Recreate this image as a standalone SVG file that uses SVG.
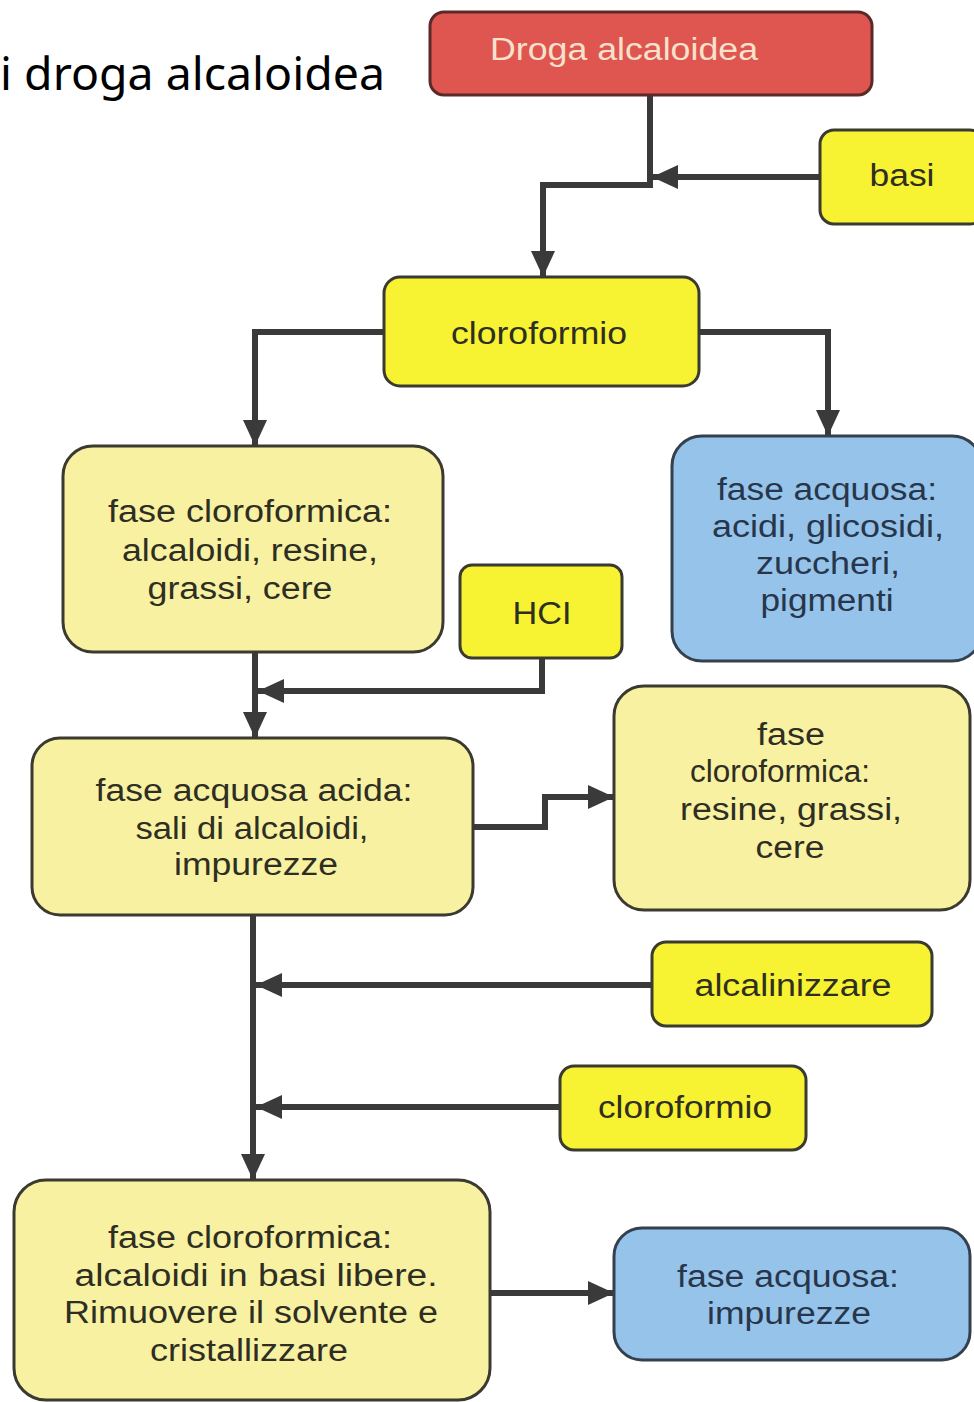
<svg xmlns="http://www.w3.org/2000/svg" width="974" height="1402" viewBox="0 0 974 1402">
<defs>
<style>
.box{stroke:#3b3a30;stroke-width:3}
.red{fill:#df5550;stroke:#5a2a28}
.yb{fill:#f7f232}
.yp{fill:#f8f1a2}
.bl{fill:#96c3ea;stroke:#34404e}
text{font-family:"Liberation Sans",Arial,sans-serif;font-size:31px;text-anchor:middle;fill:#2e2e22}
.wt{fill:#f6e2cc}
.bt{fill:#27364a}
.title{font-family:"Comic Sans MS","Noto Sans",sans-serif;font-size:45px;text-anchor:start;fill:#000}
.c{fill:none;stroke:#3a3a3a;stroke-width:6;marker-end:url(#ah)}
</style>
<marker id="ah" viewBox="0 0 26 24" refX="26" refY="12" markerWidth="26" markerHeight="24" markerUnits="userSpaceOnUse" orient="auto">
<path d="M0,0 L26,12 L0,24 z" fill="#3a3a3a"/>
</marker>
</defs>
<rect width="974" height="1402" fill="#fff"/>
<text class="title" x="0" y="90" textLength="385" lengthAdjust="spacingAndGlyphs">i droga alcaloidea</text>

<g id="connectors">
<path class="c" d="M650,95 V185 H543 V277"/>
<path class="c" d="M820,177 H652"/>
<path class="c" d="M384,332 H255 V446"/>
<path class="c" d="M699,332 H828 V436"/>
<path class="c" d="M255,652 V738"/>
<path class="c" d="M542,658 V691 H258"/>
<path class="c" d="M473,827 H545 V797 H614"/>
<path class="c" d="M253,915 V1180"/>
<path class="c" d="M652,985 H256"/>
<path class="c" d="M560,1107 H256"/>
<path class="c" d="M490,1293 H614"/>
</g>

<g id="n-droga">
<rect class="box red" x="430" y="12" width="442" height="83" rx="14"/>
<text class="wt" x="624" y="60" textLength="268" lengthAdjust="spacingAndGlyphs">Droga alcaloidea</text>
</g>
<g id="n-basi">
<rect class="box yb" x="820" y="130" width="164" height="94" rx="14"/>
<text x="902" y="186" textLength="65" lengthAdjust="spacingAndGlyphs">basi</text>
</g>
<g id="n-cloroformio1">
<rect class="box yb" x="384" y="277" width="315" height="109" rx="16"/>
<text x="539" y="344" textLength="176" lengthAdjust="spacingAndGlyphs">cloroformio</text>
</g>
<g id="n-fase-clorof1">
<rect class="box yp" x="63" y="446" width="380" height="206" rx="30"/>
<text x="250" y="522" textLength="284" lengthAdjust="spacingAndGlyphs">fase cloroformica:</text>
<text x="250" y="561" textLength="256" lengthAdjust="spacingAndGlyphs">alcaloidi, resine,</text>
<text x="240" y="599" textLength="185" lengthAdjust="spacingAndGlyphs">grassi, cere</text>
</g>
<g id="n-fase-acq1">
<rect class="box bl" x="672" y="436" width="310" height="225" rx="30"/>
<text class="bt" x="827" y="500" textLength="220" lengthAdjust="spacingAndGlyphs">fase acquosa:</text>
<text class="bt" x="828" y="537" textLength="232" lengthAdjust="spacingAndGlyphs">acidi, glicosidi,</text>
<text class="bt" x="828" y="574" textLength="144" lengthAdjust="spacingAndGlyphs">zuccheri,</text>
<text class="bt" x="827" y="611" textLength="133" lengthAdjust="spacingAndGlyphs">pigmenti</text>
</g>
<g id="n-hcl">
<rect class="box yb" x="460" y="565" width="162" height="93" rx="12"/>
<text x="542" y="624" textLength="59" lengthAdjust="spacingAndGlyphs">HCI</text>
</g>
<g id="n-acq-acida">
<rect class="box yp" x="32" y="738" width="441" height="177" rx="28"/>
<text x="254" y="801" textLength="317" lengthAdjust="spacingAndGlyphs">fase acquosa acida:</text>
<text x="252" y="839" textLength="233" lengthAdjust="spacingAndGlyphs">sali di alcaloidi,</text>
<text x="256" y="875" textLength="164" lengthAdjust="spacingAndGlyphs">impurezze</text>
</g>
<g id="n-clorof-resine">
<rect class="box yp" x="614" y="686" width="356" height="224" rx="30"/>
<text x="791" y="745" textLength="68" lengthAdjust="spacingAndGlyphs">fase</text>
<text x="780" y="782" textLength="180" lengthAdjust="spacingAndGlyphs">cloroformica:</text>
<text x="791" y="820" textLength="222" lengthAdjust="spacingAndGlyphs">resine, grassi,</text>
<text x="790" y="858" textLength="69" lengthAdjust="spacingAndGlyphs">cere</text>
</g>
<g id="n-alcalinizzare">
<rect class="box yb" x="652" y="942" width="280" height="84" rx="14"/>
<text x="793" y="996" textLength="197" lengthAdjust="spacingAndGlyphs">alcalinizzare</text>
</g>
<g id="n-cloroformio2">
<rect class="box yb" x="560" y="1066" width="246" height="84" rx="14"/>
<text x="685" y="1118" textLength="174" lengthAdjust="spacingAndGlyphs">cloroformio</text>
</g>
<g id="n-basi-libere">
<rect class="box yp" x="14" y="1180" width="476" height="220" rx="32"/>
<text x="250" y="1248" textLength="284" lengthAdjust="spacingAndGlyphs">fase cloroformica:</text>
<text x="256" y="1286" textLength="363" lengthAdjust="spacingAndGlyphs">alcaloidi in basi libere.</text>
<text x="251" y="1323" textLength="374" lengthAdjust="spacingAndGlyphs">Rimuovere il solvente e</text>
<text x="249" y="1361" textLength="198" lengthAdjust="spacingAndGlyphs">cristallizzare</text>
</g>
<g id="n-acq-impurezze">
<rect class="box bl" x="614" y="1228" width="356" height="132" rx="28"/>
<text class="bt" x="788" y="1287" textLength="222" lengthAdjust="spacingAndGlyphs">fase acquosa:</text>
<text class="bt" x="789" y="1324" textLength="164" lengthAdjust="spacingAndGlyphs">impurezze</text>
</g>
</svg>
